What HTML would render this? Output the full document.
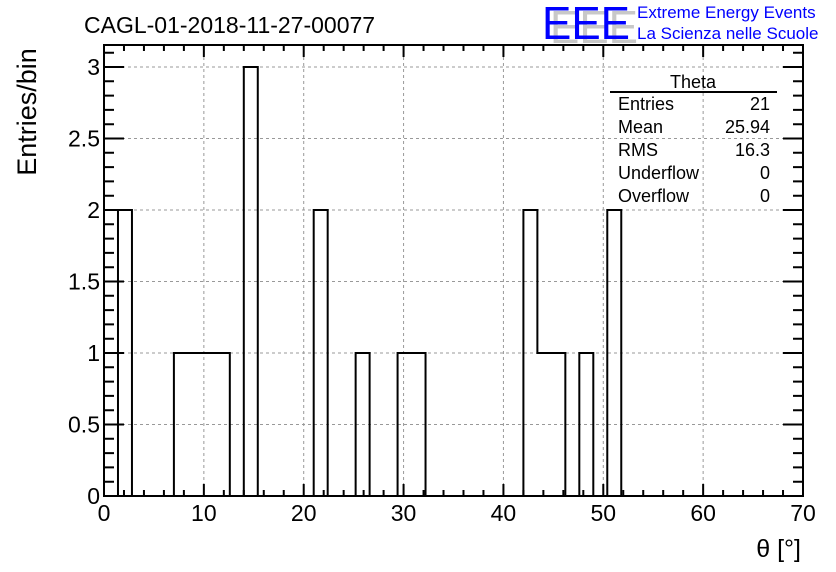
<!DOCTYPE html>
<html><head><meta charset="utf-8"><style>
body{margin:0;background:#fff;}
svg{display:block;font-family:"Liberation Sans",sans-serif;}
</style></head><body>
<svg id="c" width="836" height="572" viewBox="0 0 836 572">
<text x="84" y="33" font-size="23">CAGL-01-2018-11-27-00077</text>
<g>
<text x="546" y="40" font-size="46" fill="#c8c8c8" textLength="88" lengthAdjust="spacingAndGlyphs" transform="translate(4,3)">EEE</text>
<text x="542" y="39" font-size="46" fill="#0000ff" textLength="88" lengthAdjust="spacingAndGlyphs">EEE</text>
<text x="637" y="18" font-size="17" fill="#0000ff">Extreme Energy Events</text>
<text x="637" y="39" font-size="17" fill="#0000ff">La Scienza nelle Scuole</text>
</g>
<g id="grid"></g>
<g id="ticks"></g>
<path id="hist" fill="none" stroke="#000" stroke-width="2"/>
<rect x="104" y="45" width="699" height="451" fill="none" stroke="#000" stroke-width="2"/>
<text x="36" y="112" font-size="27" transform="rotate(-90 36 112)" text-anchor="middle">Entries/bin</text>
<text x="801" y="557" font-size="25" text-anchor="end">θ [°]</text>
<g font-size="18">
<text x="693" y="88" text-anchor="middle">Theta</text>
<line x1="610" y1="92" x2="777" y2="92" stroke="#000" stroke-width="2"/>
<text x="618" y="110">Entries</text><text x="770" y="110" text-anchor="end">21</text>
<text x="618" y="133">Mean</text><text x="770" y="133" text-anchor="end">25.94</text>
<text x="618" y="156">RMS</text><text x="770" y="156" text-anchor="end">16.3</text>
<text x="618" y="179">Underflow</text><text x="770" y="179" text-anchor="end">0</text>
<text x="618" y="202">Overflow</text><text x="770" y="202" text-anchor="end">0</text>
</g>
<g id="labels" font-size="23"></g>
</svg>
<script>
const binCounts=[0,2,0,0,0,1,1,1,1,0,3,0,0,0,0,2,0,0,1,0,0,1,1,0,0,0,0,0,0,0,2,1,1,0,1,0,2,0,0,0,0,0,0,0,0,0,0,0,0,0];
const binWidth=1.4;
const xTicks=[0,10,20,30,40,50,60,70];
const yTicks=[0,0.5,1,1.5,2,2.5,3];
const yTickLabels=["0","0.5","1","1.5","2","2.5","3"];
const X0=104,X1=803,Y0=496,xMax=70,yPx=143;
const xs=v=>X0+(X1-X0)*v/xMax, ys=v=>Y0-v*yPx;
const NS="http://www.w3.org/2000/svg";
function mk(t,a,p){const e=document.createElementNS(NS,t);for(const k in a)e.setAttribute(k,a[k]);p.appendChild(e);return e;}
const grid=document.getElementById('grid'),tk=document.getElementById('ticks'),lb=document.getElementById('labels');
xTicks.forEach(v=>{
 if(v>0&&v<xMax){const l=mk('line',{x1:xs(v),x2:xs(v),y1:45,y2:Y0,stroke:'#999','stroke-dasharray':'3,3'},grid);
 
 }
 const t=mk('text',{x:xs(v),y:521,'text-anchor':'middle'},lb);t.textContent=v;
 
 
});
yTicks.forEach((v,i)=>{
 if(v>0){const l=mk('line',{x1:X0,x2:X1,y1:ys(v),y2:ys(v),stroke:'#999','stroke-dasharray':'3,3'},grid);
 
 }
 const t=mk('text',{x:100,y:ys(v)+8,'text-anchor':'end'},lb);t.textContent=yTickLabels[i];
 
 
});
let d='';
for(let v=0;v<=xMax+0.01;v+=2){const big=v%10===0;const h=big?12:6;
 d+=`M${xs(v)},${Y0}v${-h}M${xs(v)},45v${h}`;}
for(let i=0;i*0.1<=3.15;i++){const v=i*0.1;const big=i%5===0;const h=big?20:10;
 d+=`M${X0},${ys(v)}h${h}M${X1},${ys(v)}h${-h}`;}
mk('path',{d:d,stroke:'#000','stroke-width':2,fill:'none'},tk);
let p=`M${xs(0)},${ys(0)}`;let prev=0;
binCounts.forEach((c,i)=>{const x=xs(i*binWidth);p+=`L${x},${ys(prev)}L${x},${ys(c)}`;prev=c;});
p+=`L${xs(binCounts.length*binWidth)},${ys(prev)}L${xs(binCounts.length*binWidth)},${ys(0)}`;
document.getElementById('hist').setAttribute('d',p);
</script>
</body></html>
